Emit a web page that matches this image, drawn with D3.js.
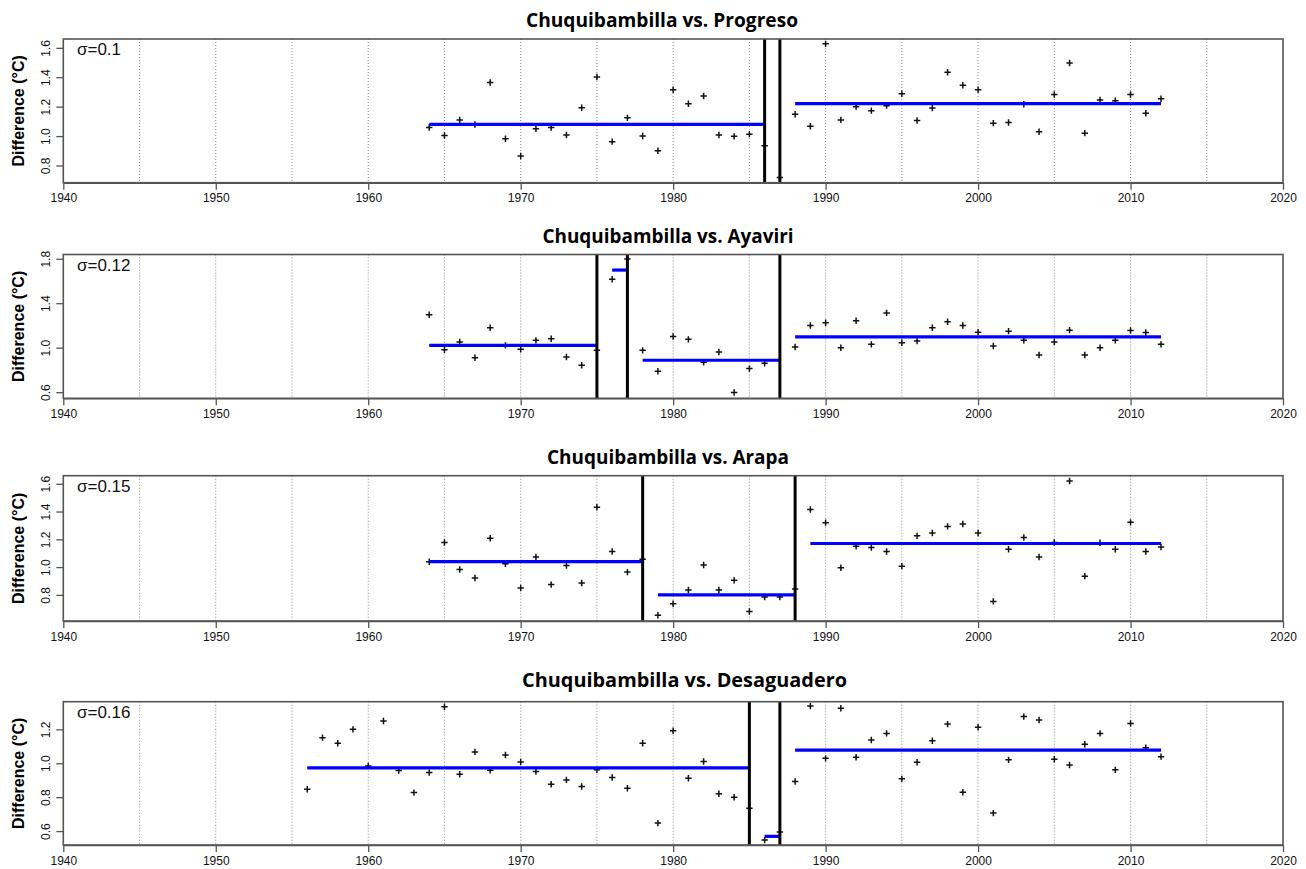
<!DOCTYPE html>
<html><head><meta charset="utf-8">
<script src="https://cdn.jsdelivr.net/npm/d3@7"></script>
<style>body{margin:0;background:#fff}</style>
</head><body><svg id="c" width="1306" height="869"></svg>
<script>
// ---------- data ----------
const titles = ["Chuquibambilla vs. Progreso","Chuquibambilla vs. Ayaviri","Chuquibambilla vs. Arapa","Chuquibambilla vs. Desaguadero"];
const sigmaLabels = ["σ=0.1","σ=0.12","σ=0.15","σ=0.16"];
const xTickYears = [1940,1950,1960,1970,1980,1990,2000,2010,2020];
const gridYears = [1945,1950,1955,1960,1965,1970,1975,1980,1985,1990,1995,2000,2005,2010,2015];
const yTicks = [[0.8,1.0,1.2,1.4,1.6],[0.6,1.0,1.4,1.8],[0.8,1.0,1.2,1.4,1.6],[0.6,0.8,1.0,1.2]];
const yDomains = [[0.683,1.66],[0.545,1.838],[0.612,1.658],[0.518,1.363]];
const firstYears = [1964,1964,1964,1956];

const progresoValues = [1.058,1.004,1.110,1.079,1.364,0.982,0.865,1.049,1.058,1.007,1.193,1.402,0.962,1.124,1.000,0.900,
  1.315,1.220,1.272,1.007,0.998,1.013,0.935,0.719,1.148,1.067,1.627,1.110,1.200,1.173,1.207,1.288,1.106,1.191,1.434,1.346,
  1.315,1.088,1.092,1.216,1.029,1.283,1.497,1.020,1.245,1.240,1.283,1.155,1.254];
const ayaviriValues = [1.296,0.982,1.051,0.910,1.179,1.021,0.985,1.066,1.081,0.916,0.842,0.976,1.615,1.797,0.976,0.788,
  1.101,1.075,0.869,0.961,0.597,0.812,0.860,null,1.006,1.200,1.224,1.000,1.242,1.030,1.313,1.045,1.060,1.179,1.233,1.200,
  1.140,1.015,1.149,1.066,0.934,1.051,1.158,0.934,1.000,1.066,1.155,1.137,1.030];
const arapaValues = [1.039,1.177,0.983,0.922,1.208,1.024,0.850,1.073,0.874,1.012,0.886,1.431,1.112,0.964,1.056,0.653,
  0.736,0.835,1.015,0.835,0.905,0.680,0.784,0.784,0.842,1.415,1.320,0.995,1.150,1.141,1.112,1.007,1.225,1.245,1.293,1.310,
  1.245,0.753,1.128,1.213,1.073,1.177,1.620,0.935,1.175,1.128,1.322,1.112,1.145];
const desaguaderoValues = [0.847,1.151,1.118,1.200,0.984,1.249,0.957,0.827,0.945,1.333,0.935,1.067,0.959,1.049,1.008,0.951,
  0.876,0.902,0.863,0.961,0.916,0.853,1.118,0.647,1.192,0.912,1.010,0.820,0.800,0.735,0.547,0.594,0.892,1.337,1.029,1.324,
  1.035,1.137,1.176,0.908,1.006,1.133,1.231,0.829,1.212,0.706,1.020,1.275,1.255,1.024,0.990,1.112,1.176,0.961,1.235,1.092,1.039];

const progresoSegments = [[1964,1986,1.079],[1988,2012,1.220]];
const ayaviriSegments = [[1964,1975,1.021],[1976,1977,1.698],[1978,1987,0.887],[1988,2012,1.098]];
const arapaSegments = [[1964,1978,1.039],[1979,1988,0.800],[1989,2012,1.170]];
const desaguaderoSegments = [[1956,1985,0.973],[1986,1987,0.569],[1988,2012,1.078]];

const progresoBreaks = [1986,1987];
const ayaviriBreaks = [1975,1977,1987];
const arapaBreaks = [1978,1988];
const desaguaderoBreaks = [1985,1987];

const seriesValues = [progresoValues, ayaviriValues, arapaValues, desaguaderoValues];
const seriesSegments = [progresoSegments, ayaviriSegments, arapaSegments, desaguaderoSegments];
const seriesBreaks = [progresoBreaks, ayaviriBreaks, arapaBreaks, desaguaderoBreaks];

// ---------- layout ----------
const boxTops = [39, 254.5, 475.7, 701.7];
const boxBottoms = [182.7, 398.3, 621, 845];
const titleCenters = [662, 668, 668, 684.5];
const titleWidths = [272, 251, 242, 325];
const titleBaselines = [27, 243, 464, 687];
const left = 63.3, right = 1283;

const svg = d3.select("#c");
const x = d3.scaleLinear().domain([1940, 2020]).range([left, right]);
const fmt = d3.format(".1f");

for (let p = 0; p < 4; p++) {
  const top = boxTops[p], bot = boxBottoms[p];
  const y = d3.scaleLinear().domain(yDomains[p]).range([bot, top]);
  const g = svg.append("g");

  // title
  g.append("text").attr("x", titleCenters[p]).attr("y", titleBaselines[p])
    .attr("text-anchor", "middle")
    .attr("font-family", "'Open Sans', sans-serif").attr("font-weight", 700).attr("font-size", 20)
    .attr("textLength", titleWidths[p]).attr("lengthAdjust", "spacingAndGlyphs")
    .text(titles[p]);

  // grid
  g.selectAll("line.grid").data(gridYears).join("line")
    .attr("x1", d => x(d)).attr("x2", d => x(d)).attr("y1", top).attr("y2", bot)
    .attr("stroke", "#8a8a8a").attr("stroke-width", 1).attr("stroke-dasharray", "1,2");

  // points
  const pts = seriesValues[p].map((v, i) => ({year: firstYears[p] + i, v})).filter(d => d.v !== null);
  const cs = 3.2;
  const pg = g.append("g");
  pg.selectAll("path").data(pts).join("path")
    .attr("d", d => `M${x(d.year)-cs},${y(d.v)}H${x(d.year)+cs}M${x(d.year)},${y(d.v)-cs}V${y(d.v)+cs}`)
    .attr("stroke", "#111").attr("stroke-width", 1.5).attr("fill", "none");

  // segments
  g.selectAll("line.seg").data(seriesSegments[p]).join("line")
    .attr("x1", d => x(d[0])).attr("x2", d => x(d[1]))
    .attr("y1", d => y(d[2])).attr("y2", d => y(d[2]))
    .attr("stroke", "#0000ff").attr("stroke-width", 3.2);

  // breaks
  g.selectAll("line.brk").data(seriesBreaks[p]).join("line")
    .attr("x1", d => x(d)).attr("x2", d => x(d)).attr("y1", top).attr("y2", bot)
    .attr("stroke", "#000").attr("stroke-width", 3);

  // box
  g.append("rect").attr("x", left).attr("y", top).attr("width", right - left).attr("height", bot - top)
    .attr("fill", "none").attr("stroke", "#555").attr("stroke-width", 1.6);

  // x axis
  const xa = g.append("g").attr("transform", `translate(0,${bot})`)
    .call(d3.axisBottom(x).tickValues(xTickYears).tickFormat(d3.format("d")).tickSize(7).tickSizeOuter(0));
  xa.select(".domain").attr("stroke", "#555").attr("stroke-width", 1.6);
  xa.selectAll(".tick line").attr("stroke", "#555").attr("stroke-width", 1.3);
  xa.selectAll(".tick text").attr("font-family", "Arial, 'Liberation Sans', sans-serif")
    .attr("font-size", 12).attr("fill", "#111").attr("y", 11);

  // y axis
  const ya = g.append("g").attr("transform", `translate(${left},0)`)
    .call(d3.axisLeft(y).tickValues(yTicks[p]).tickFormat(fmt).tickSize(7).tickSizeOuter(0));
  ya.select(".domain").remove();
  ya.selectAll(".tick line").attr("stroke", "#555").attr("stroke-width", 1.3);
  ya.selectAll(".tick text").attr("font-family", "Arial, 'Liberation Sans', sans-serif")
    .attr("font-size", 12).attr("fill", "#111")
    .attr("x", null).attr("dy", null)
    .attr("transform", "translate(-17,0) rotate(-90)")
    .attr("text-anchor", "middle").attr("dominant-baseline", "central");

  // y label
  g.append("text")
    .attr("transform", `translate(24,${(top + bot) / 2}) rotate(-90)`)
    .attr("text-anchor", "middle")
    .attr("font-family", "Arial, 'Liberation Sans', sans-serif").attr("font-weight", 700).attr("font-size", 16)
    .text("Difference (°C)");

  // sigma
  g.append("text").attr("x", 77).attr("y", top + 16)
    .attr("font-family", "Arial, 'Liberation Sans', sans-serif").attr("font-size", 17).attr("fill", "#111")
    .text(sigmaLabels[p]);
}
</script></body></html>
